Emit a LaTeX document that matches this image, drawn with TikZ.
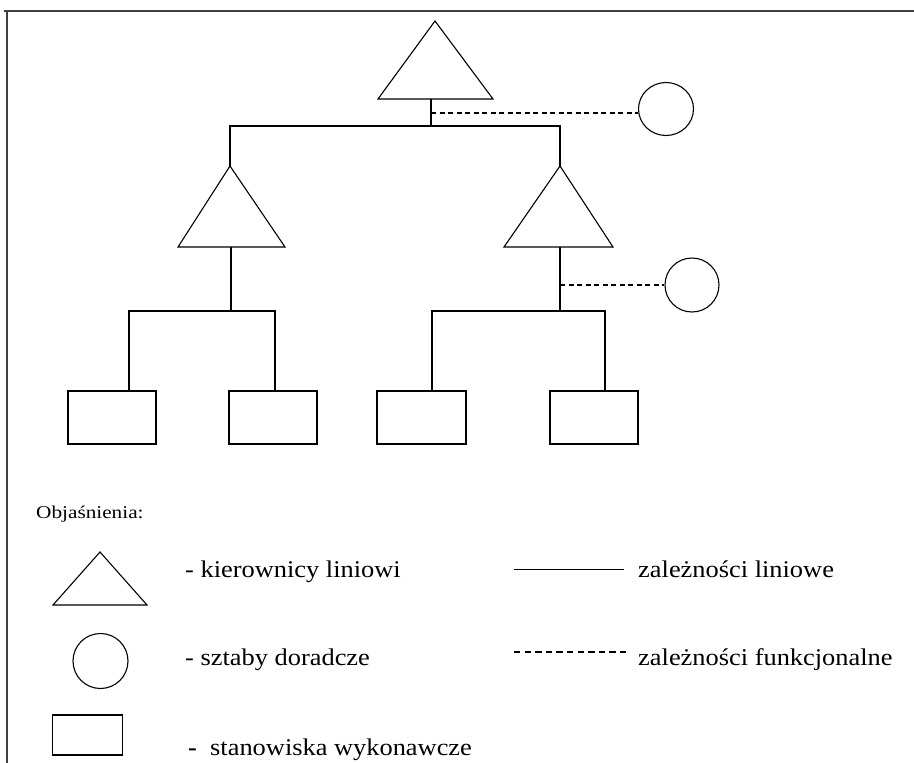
\documentclass[tikz,border=0pt]{standalone}
\usepackage{fontspec}
\setmainfont{Liberation Serif}
\usetikzlibrary{shapes.geometric,calc}
\tikzset{
  ln/.style={draw=black, line width=1.1pt},
  fn/.style={draw=black, line width=1.1pt, dash pattern=on 5pt off 3.5pt},
  fnleg/.style={draw=black, line width=1.1pt, dash pattern=on 6.4pt off 4.2pt},
  staff/.style={ellipse, draw=black, line width=1.1pt, inner sep=0pt},
  post/.style={rectangle, draw=black, line width=1.1pt, inner sep=0pt},
  lbl/.style={anchor=base west, inner sep=0pt, xscale=1.1, font=\fontsize{24}{28}\selectfont},
  frame/.style={draw=black!75, line width=1.3pt}
}
\begin{document}
\begin{tikzpicture}[x=1pt,y=-1pt]
\useasboundingbox (0,0) rectangle (914,763);
% frame
\draw[frame] (4,11) -- (914,11);
\draw[frame] (7,11) -- (7,763);

% top triangle
\coordinate (T0a) at (435,21);
\coordinate (T0b) at (431,99);
\draw[ln] (T0a) -- (493,99) -- (378,99) -- cycle;
% left triangle
\coordinate (T1a) at (230,166);
\coordinate (T1b) at (231,247);
\draw[ln] (T1a) -- (285,247) -- (178,247) -- cycle;
% right triangle
\coordinate (T2a) at (560,166);
\coordinate (T2b) at (560,247);
\draw[ln] (T2a) -- (613,247) -- (504,247) -- cycle;

% staffs
\node[staff, minimum width=55pt, minimum height=53pt] (C0) at (666,109) {};
\node[staff, minimum width=54pt, minimum height=54pt] (C1) at (692,285) {};

% posts
\node[post, minimum width=88pt, minimum height=53pt] (P1) at (112,417.5) {};
\node[post, minimum width=88pt, minimum height=53pt] (P2) at (273,417.5) {};
\node[post, minimum width=89pt, minimum height=53pt] (P3) at (421.5,417.5) {};
\node[post, minimum width=88pt, minimum height=53pt] (P4) at (594,417.5) {};

% line dependencies, top level
\coordinate (J0) at (431,126);
\draw[ln] (T0b) -- (J0);
\draw[ln] (J0) -- (230,126) -- (T1a);
\draw[ln] (J0) -- (560,126) -- (T2a);
\coordinate (D0) at (431,113);
\draw[fn] (D0) -- (D0 -| C0.west);

% left group
\coordinate (J1) at (231,311);
\draw[ln] (T1b) -- (J1);
\draw[ln] (J1) -- (129,311) -- (129,391);
\draw[ln] (J1) -- (275,311) -- (275,391);

% right group
\coordinate (J2) at (560,311);
\draw[ln] (T2b) -- (J2);
\draw[ln] (J2) -- (432,311) -- (432,391);
\draw[ln] (J2) -- (605,311) -- (605,391);
\coordinate (D1) at (560,285);
\draw[fn] (D1) -- (D1 -| C1.west);

% legend
\node[anchor=base west, inner sep=0pt, xscale=1.18, font=\fontsize{18}{21}\selectfont] (obj) at (36,518) {Objaśnienia:};

\coordinate (LTa) at (100,552);
\draw[ln] (LTa) -- (147,605) -- (53,605) -- cycle;
\node[lbl] (lt) at (185,577) {- kierownicy liniowi};

\node[staff, minimum width=55pt, minimum height=55pt] (LC) at (100.5,661) {};
\node[lbl] (lc) at (185,665) {- sztaby doradcze};

\node[post, minimum width=70pt, minimum height=40pt] (LP) at (87.5,735) {};
\node[lbl] (lp) at (188,755) {\textbf{-}\ \ stanowiska wykonawcze};

\coordinate (LL1) at (514,569.5);
\coordinate (LL2) at (624,569.5);
\draw[ln] (LL1) -- (LL2);
\node[lbl] (ll) at (638,577) {zależności liniowe};

\coordinate (LF1) at (514,652);
\coordinate (LF2) at (627,652);
\draw[fnleg] (LF1) -- (LF2);
\node[lbl] (lf) at (638,665) {zależności funkcjonalne};
\end{tikzpicture}
\end{document}
